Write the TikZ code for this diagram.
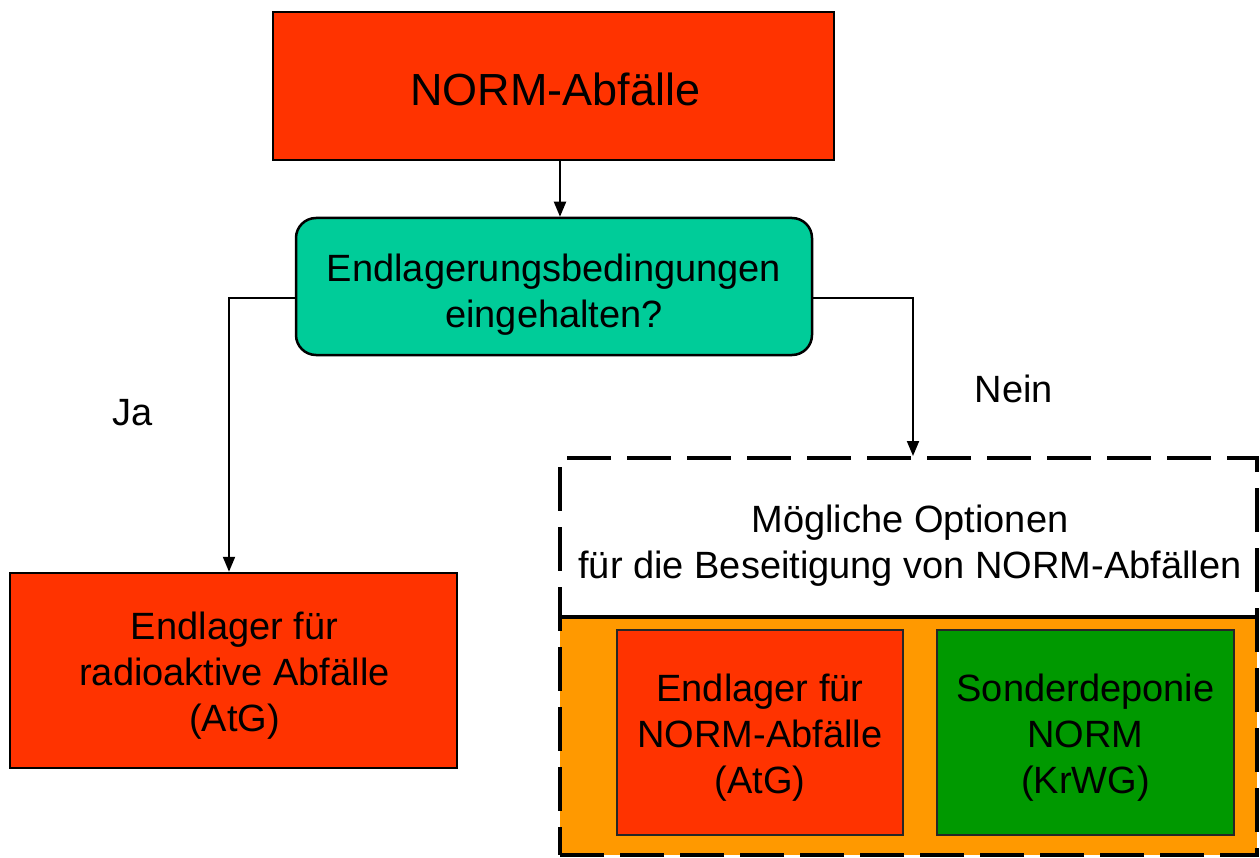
\documentclass[tikz,border=0pt]{standalone}
\usepackage{fontspec}
\setmainfont{Liberation Sans}
\usetikzlibrary{arrows.meta,calc}
\definecolor{cred}{HTML}{FF3300}
\definecolor{cteal}{HTML}{00CC99}
\definecolor{corange}{HTML}{FF9900}
\definecolor{cgreen}{HTML}{009900}
\begin{document}
\begin{tikzpicture}[x=1pt,y=-1pt,
  txt/.style={font=\fontsize{38}{46}\selectfont, align=center, text=black},
  redbox/.style={draw=black, line width=2.5pt, fill=cred, inner sep=0pt},
  decbox/.style={draw=black, line width=2.5pt, fill=cteal, rounded corners=20pt, inner sep=0pt},
  innerbox/.style={draw=black!85, line width=1.2pt, inner sep=0pt},
  arr/.style={line width=2pt, -{Triangle[length=15pt,width=12pt]}},
  optbox/.style={draw=black, line width=4pt, dash pattern=on 44pt off 16pt, inner sep=0pt}
]
\useasboundingbox (0,0) rectangle (1260,858);
\fill[white] (0,0) rectangle (1260,858);

% top
\node[redbox, minimum width=561pt, minimum height=148pt] (top) at (553.5,86) {};
\node[txt, font=\fontsize{45}{52}\selectfont] (toptxt) at ($(top.center)+(2,3)$) {NORM-Abfälle};
% decision
\node[decbox, minimum width=516pt, minimum height=137pt] (dec) at (554,286.5) {};
\node[txt] (dectxt) at ($(dec.center)+(0,8)$) {Endlagerungsbedingungen\\eingehalten?};
% left result
\node[redbox, minimum width=447pt, minimum height=195pt] (left) at (233.5,670.5) {};
\node[txt] (lefttxt) at ($(left.center)+(1,5.5)$) {Endlager für\\radioaktive Abfälle\\(AtG)};

% options area
\fill[corange] (560,617) rectangle (1257,855);
\node[optbox, minimum width=697pt, minimum height=397pt] (opt) at (908.5,656.5) {};
\draw[line width=4pt] (opt.west |- 0,617) -- (opt.east |- 0,617);
\node[txt] (opthead) at (910,546) {Mögliche Optionen\\für die Beseitigung von NORM-Abfällen};
\node[innerbox, fill=cred, minimum width=286pt, minimum height=205pt] (endl) at (760,732.5) {};
\node[txt] (endltxt) at ($(endl.center)+(0,5.5)$) {Endlager für\\NORM-Abfälle\\(AtG)};
\node[innerbox, fill=cgreen, minimum width=297pt, minimum height=205pt] (sond) at (1085.5,732.5) {};
\node[txt] (sondtxt) at ($(sond.center)+(0,5.5)$) {Sonderdeponie\\NORM\\(KrWG)};

% connectors
\coordinate (cx) at (560,0);
\draw[arr] (top.south -| cx) -- (dec.north -| cx);
\coordinate (lstart) at ($(dec.west)+(0,11.5)$);
\coordinate (rstart) at ($(dec.east)+(0,11.5)$);
\draw[arr] (lstart) -| ($(left.north)+(-4.5,0)$);
\draw[arr] (rstart) -| ($(opt.north)+(4.5,0)$);

% labels
\node[txt] (ja) at (133,413) {Ja};
\node[txt] (nein) at (1014,389) {Nein};
\end{tikzpicture}
\end{document}
